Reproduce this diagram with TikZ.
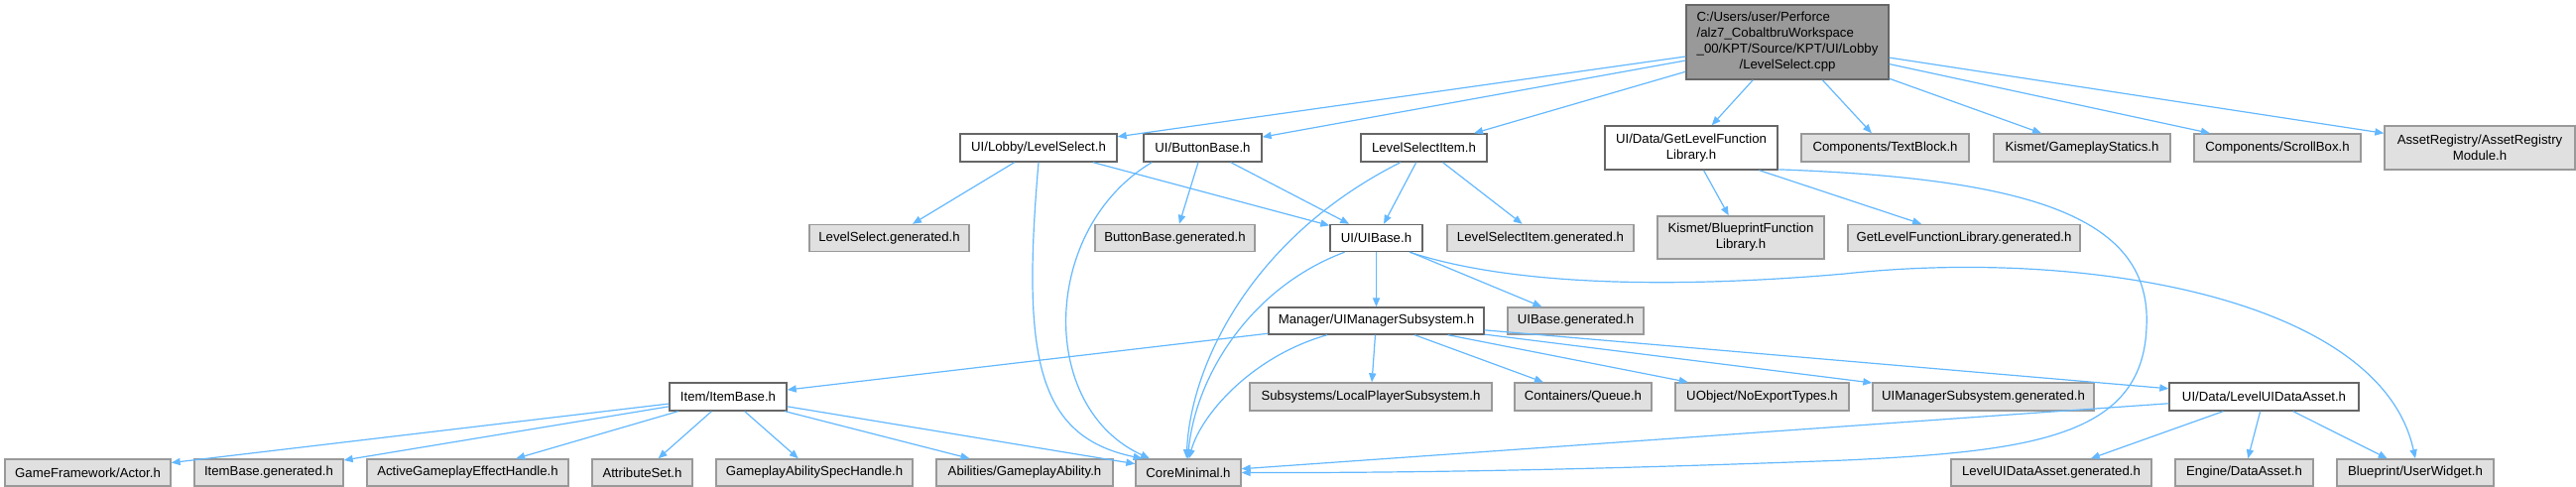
\documentclass[tikz,border=0pt]{standalone}
\usepackage{fontspec}
\setmainfont{Liberation Sans}
\usepackage{xcolor}
\usepackage{tikz}
\usetikzlibrary{positioning, shapes, arrows, calc, arrows.meta}

\definecolor{edgeblue}{HTML}{63B8FF}
\definecolor{rootgray}{HTML}{999999}
\definecolor{leafgray}{HTML}{E0E0E0}
\definecolor{framegray}{HTML}{666666}
\definecolor{leafframe}{HTML}{999999}

\tikzset{
  filebox/.style={draw=framegray, line width=0.7pt, fill=white, inner sep=0pt,
    align=center, minimum height=14pt, font=\fontsize{6.6pt}{8pt}\selectfont},
  leafbox/.style={filebox, draw=leafframe, fill=leafgray},
  rootbox/.style={filebox, fill=rootgray},
  dep/.style={draw=edgeblue, line width=0.6pt, -{Triangle[length=4.5pt,width=3.6pt]}}
}

\begin{document}
\begin{tikzpicture}[x=0.5pt, y=-0.5pt]
  \useasboundingbox (0,0) rectangle (2597,491);

  % Source file
  \node[rootbox, minimum width=102pt, minimum height=37.5pt] (main) at (1802,42.5)
    {\begin{tabular}{@{}l@{}}C:/Users/user/Perforce\\/alz7\_CobaltbruWorkspace\\\_00/KPT/Source/KPT/UI/Lobby\\\multicolumn{1}{@{}c@{}}{/LevelSelect.cpp}\end{tabular}};

  % Direct includes
  \node[filebox, minimum width=79pt] (lsel) at (1047,149) {UI/Lobby/LevelSelect.h};
  \node[filebox, minimum width=59.5pt] (bbase) at (1212.5,149) {UI/ButtonBase.h};
  \node[filebox, minimum width=63.5pt] (lsitem) at (1435.5,149) {LevelSelectItem.h};
  \node[filebox, minimum width=87pt, minimum height=22pt] (getlib) at (1705,149) {UI/Data/GetLevelFunction\\Library.h};
  \node[leafbox, minimum width=84.5pt] (textblock) at (1900.5,149) {Components/TextBlock.h};
  \node[leafbox, minimum width=89pt] (statics) at (2099,149) {Kismet/GameplayStatics.h};
  \node[leafbox, minimum width=84pt] (scroll) at (2296,149) {Components/ScrollBox.h};
  \node[leafbox, minimum width=96pt, minimum height=22pt] (registry) at (2500,149) {AssetRegistry/AssetRegistry\\Module.h};

  % Second level
  \node[leafbox, minimum width=80.5pt, minimum height=13.5pt] (lselgen) at (896.5,240) {LevelSelect.generated.h};
  \node[leafbox, minimum width=80.5pt, minimum height=13.5pt] (bbasegen) at (1184.5,240) {ButtonBase.generated.h};
  \node[filebox, minimum width=46.5pt, minimum height=13.5pt] (uibase) at (1387.5,240) {UI/UIBase.h};
  \node[leafbox, minimum width=94pt, minimum height=13.5pt] (lsitemgen) at (1553,240) {LevelSelectItem.generated.h};
  \node[leafbox, minimum width=84pt, minimum height=21.5pt] (bpfunc) at (1755,239.5) {Kismet/BlueprintFunction\\Library.h};
  \node[leafbox, minimum width=117pt, minimum height=13.5pt] (getlibgen) at (1980,240) {GetLevelFunctionLibrary.generated.h};

  % Third level
  \node[filebox, minimum width=108.5pt, minimum height=13.5pt] (uimgr) at (1387.5,323.5) {Manager/UIManagerSubsystem.h};
  \node[leafbox, minimum width=68.5pt, minimum height=13.5pt] (uibasegen) at (1588.5,323.5) {UIBase.generated.h};

  % Fourth level
  \node[filebox, minimum width=59pt] (itembase) at (734,400) {Item/ItemBase.h};
  \node[leafbox, minimum width=122pt] (localplayer) at (1382,400) {Subsystems/LocalPlayerSubsystem.h};
  \node[leafbox, minimum width=69pt] (queue) at (1596,400) {Containers/Queue.h};
  \node[leafbox, minimum width=87.5pt] (noexport) at (1776.5,400) {UObject/NoExportTypes.h};
  \node[leafbox, minimum width=111.5pt] (uimgrgen) at (1999.5,400) {UIManagerSubsystem.generated.h};
  \node[filebox, minimum width=95.5pt] (lvldata) at (2282.5,400) {UI/Data/LevelUIDataAsset.h};

  % Bottom row
  \node[leafbox, minimum width=83.5pt, minimum height=13.5pt] (actor) at (88.5,476.5) {GameFramework/Actor.h};
  \node[leafbox, minimum width=75pt, minimum height=13.5pt] (itemgen) at (271,476.5) {ItemBase.generated.h};
  \node[leafbox, minimum width=101.5pt, minimum height=13.5pt] (activege) at (471.5,476.5) {ActiveGameplayEffectHandle.h};
  \node[leafbox, minimum width=50.5pt, minimum height=13.5pt] (attrset) at (647.5,476.5) {AttributeSet.h};
  \node[leafbox, minimum width=99pt, minimum height=13.5pt] (gaspec) at (821,476.5) {GameplayAbilitySpecHandle.h};
  \node[leafbox, minimum width=89pt, minimum height=13.5pt] (ability) at (1033,476.5) {Abilities/GameplayAbility.h};
  \node[leafbox, minimum width=53pt, minimum height=13.5pt] (core) at (1198,476.5) {CoreMinimal.h};
  \node[leafbox, minimum width=101pt, minimum height=13.5pt] (lvldatagen) at (2068,476.5) {LevelUIDataAsset.generated.h};
  \node[leafbox, minimum width=69.5pt, minimum height=13.5pt] (dataasset) at (2262.5,476.5) {Engine/DataAsset.h};
  \node[leafbox, minimum width=79pt, minimum height=13.5pt] (userwidget) at (2435,476.5) {Blueprint/UserWidget.h};

  % Straight include edges
  \foreach \a/\b in {main/lsel, main/bbase, main/lsitem, main/getlib, main/textblock,
      main/statics, main/scroll, main/registry, lsel/lselgen, lsel/uibase,
      bbase/bbasegen, bbase/uibase, lsitem/uibase, lsitem/lsitemgen,
      getlib/bpfunc, getlib/getlibgen, uibase/uimgr, uibase/uibasegen,
      uimgr/itembase, uimgr/localplayer, uimgr/queue, uimgr/noexport,
      uimgr/uimgrgen, uimgr/lvldata, itembase/actor, itembase/itemgen,
      itembase/activege, itembase/attrset, itembase/gaspec, itembase/ability,
      itembase/core, lvldata/core, lvldata/lvldatagen, lvldata/dataasset,
      lvldata/userwidget}
    \draw[dep] (\a) -- (\b);

  % Curved edges into CoreMinimal.h
  \draw[dep] (lsel.south) .. controls (1030,360) and (1045,440) .. (core.163);
  \draw[dep] (bbase.196) .. controls (1050,230) and (1045,410) .. (core.160);
  \draw[dep] (lsitem.212) .. controls (1260,240) and (1200,370) .. (core.97);
  \draw[dep] (uibase.204) .. controls (1260,290) and (1205,380) .. (core.92);
  \draw[dep] (uimgr.196) .. controls (1260,360) and (1210,420) .. (core.87);
  \draw[dep] (getlib.-14) .. controls (2050,180) and (2170,220) .. (2164,330)
    .. controls (2160,440) and (2050,455) .. (1860,464)
    .. controls (1650,472) and (1450,477) .. (core.east);

  % Long edge to the widget header
  \draw[dep] (uibase.-23) .. controls (1530,290) and (1700,290) .. (1860,276)
    .. controls (2100,250) and (2400,300) .. (userwidget.north);
\end{tikzpicture}
\end{document}
